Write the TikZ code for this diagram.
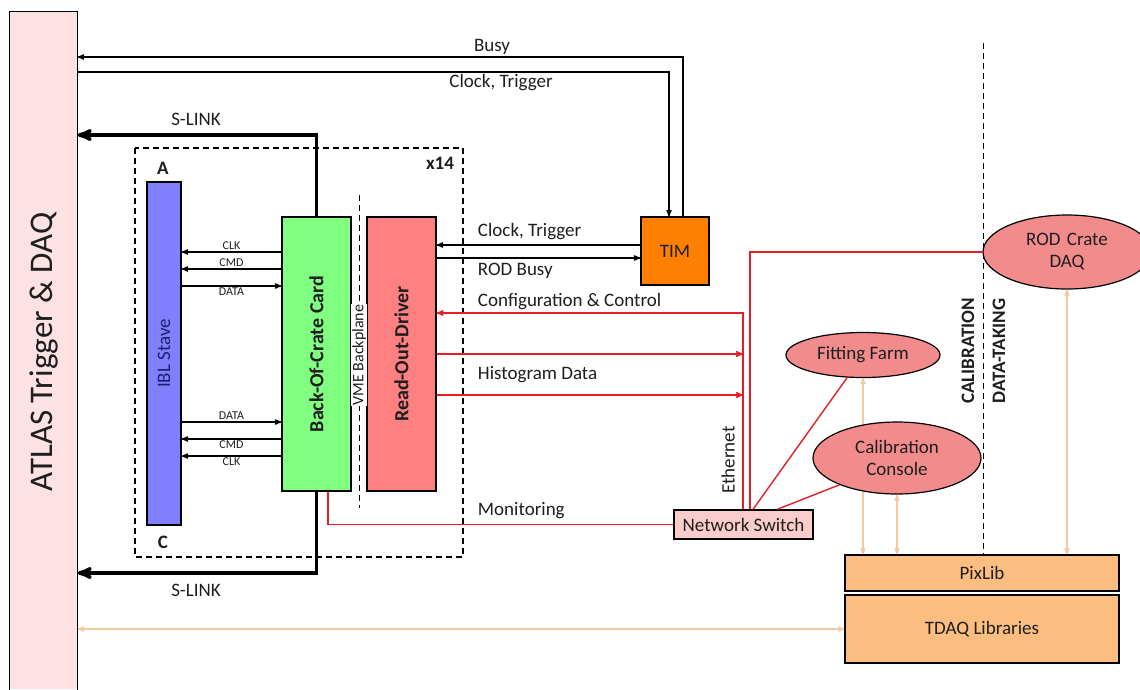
\documentclass[tikz,border=0pt]{standalone}
\usepackage{fontspec}
\setmainfont{Carlito}
\usetikzlibrary{arrows,shapes.geometric}

\definecolor{atlasfill}{RGB}{253,226,228}
\definecolor{iblblue}{RGB}{128,128,255}
\definecolor{bocgreen}{RGB}{128,255,128}
\definecolor{rodred}{RGB}{255,128,128}
\definecolor{timorange}{RGB}{255,128,0}
\definecolor{ellfill}{RGB}{242,140,140}
\definecolor{swfill}{RGB}{250,204,204}
\definecolor{libfill}{RGB}{251,190,128}
\definecolor{tanline}{RGB}{245,200,160}
\definecolor{linered}{RGB}{230,30,40}
\definecolor{ink}{RGB}{30,30,30}
\definecolor{navy}{RGB}{30,30,110}

\begin{document}
\begin{tikzpicture}[x=1pt,y=-1pt,>=stealth',line width=1.3pt,
  block/.style={draw,line width=1.2pt,inner sep=0pt,font=\fontsize{19}{21}\selectfont,text=ink},
  ell/.style={ellipse,draw,line width=1.2pt,fill=ellfill,inner sep=0pt,align=center,font=\fontsize{19}{22}\selectfont,text=ink},
  txt/.style={font=\fontsize{19}{21}\selectfont,text=ink},
  bold/.style={font=\fontsize{19}{21}\selectfont\bfseries,text=ink},
  sig/.style={font=\fontsize{12}{13}\selectfont,text=ink,inner sep=1.5pt},
  redline/.style={draw=linered,line width=1.4pt},
  slink/.style={->,line width=3.5pt},
  libarrow/.style={<->,draw=tanline,line width=1.2pt},
  crate/.style={dashed,dash pattern=on 6pt off 4pt,line width=1.2pt}]

  \useasboundingbox (0,0) rectangle (1140,689);

  % ATLAS side
  \node[fill=atlasfill,minimum width=67pt,minimum height=677pt,inner sep=0pt] (atlas) at (43.5,350.5) {};
  \draw[line width=1.2pt] (atlas.south west) |- (atlas.north east) -- (atlas.south east);
  \node[rotate=90,font=\fontsize{33}{35}\selectfont,text=ink] (atlaslbl) at (44,352) {ATLAS Trigger \& DAQ};

  % one of 14 crates
  \draw[crate] (135,148) rectangle (463,557);
  \node[bold] (sideA) at (163,168) {A};
  \node[bold] (sideC) at (163,542) {C};
  \node[bold] (x14) at (440,163) {x14};

  \node[block,fill=iblblue,minimum width=34pt,minimum height=343pt] (ibl) at (164,353.5) {};
  \node[rotate=90,font=\fontsize{19}{21}\selectfont,text=navy] (ibltxt) at (ibl) {IBL Stave};
  \node[block,fill=bocgreen,minimum width=69pt,minimum height=274pt] (boc) at (316.5,354) {};
  \node[rotate=90,font=\fontsize{20}{22}\selectfont\bfseries,text=ink] (boctxt) at (boc) {Back-Of-Crate Card};
  \node[block,fill=rodred,minimum width=69pt,minimum height=274pt] (rod) at (401.5,354) {};
  \node[rotate=90,font=\fontsize{20}{22}\selectfont\bfseries,text=ink] (rodtxt) at (rod) {Read-Out-Driver};

  \draw[crate,line width=1pt] (359,195) -- (359,508);
  \node[rotate=90,fill=white,inner sep=1pt,font=\fontsize{16}{18}\selectfont,text=ink] (vme) at (359,355) {VME Backplane};

  \node[block,fill=timorange,minimum width=68pt,minimum height=68pt] (tim) at (675,251) {TIM};
  \node[block,fill=swfill,minimum width=139pt,minimum height=29pt] (netsw) at (743.5,524.5) {Network Switch};

  % calibration side
  \node[ell,minimum width=168pt,minimum height=74pt] (rodcrate) at (1067,252) {ROD\,\,Crate\\DAQ};
  \node[ell,minimum width=154pt,minimum height=45pt] (fitfarm) at (863,355) {Fitting Farm};
  \node[block,fill=libfill,minimum width=274pt,minimum height=36pt] (pixlib) at (982,573) {PixLib};
  \node[block,fill=libfill,minimum width=274pt,minimum height=68pt] (tdaq) at (982,629) {TDAQ Libraries};
  \draw[libarrow] (fitfarm.south) -- (pixlib.north -| fitfarm.south);
  \node[ell,minimum width=168pt,minimum height=72pt] (calcon) at (897,458) {Calibration\\Console};
  \draw[libarrow] (calcon.south -| 897,0) -- (pixlib.north -| 897,0);
  \draw[libarrow] (rodcrate.south) -- (pixlib.north -| rodcrate.south);
  \draw[libarrow] (atlas.east |- tdaq.west) -- (tdaq.west);

  \draw[crate,line width=1pt] (983,43) -- (pixlib.north -| 983,0);
  \node[bold,rotate=90] (lcal) at (968,351) {CALIBRATION};
  \node[bold,rotate=90] (ldaq) at (999,351) {DATA-TAKING};

  % trigger and busy
  \coordinate (busyc) at (683,57);
  \coordinate (clkc) at (669,72);
  \draw[->] (tim.north -| busyc) |- (atlas.east |- busyc);
  \draw[->] (atlas.east |- clkc) -| (tim.north -| clkc);
  \node[txt] (lbusy) at (492,47) {Busy};
  \node[txt] (lclk) at (501,83) {Clock, Trigger};

  \draw[->] (tim.west |- 0,245) -- (rod.east |- 0,245);
  \draw[->] (rod.east |- 0,258) -- (tim.west |- 0,258);
  \node[txt,anchor=west] (lclkrod) at (474,232) {Clock, Trigger};
  \node[txt,anchor=west] (lbusyrod) at (474,271) {ROD Busy};

  % S-LINK
  \draw[slink] (boc.north) |- (atlas.east |- 0,135);
  \draw[slink] (boc.south) |- (atlas.east |- 0,573);
  \node[txt] (lslink1) at (196,119) {S-LINK};
  \node[txt] (lslink2) at (196,590) {S-LINK};

  % stave links
  \foreach \yy/\txt/\pos in {252/CLK/above,269/CMD/above,439/CMD/below,456/CLK/below}
    \draw[->] (boc.west |- 0,\yy) -- node[sig,\pos] {\txt} (ibl.east |- 0,\yy);
  \foreach \yy/\pos in {286/below,422/above}
    \draw[->] (ibl.east |- 0,\yy) -- node[sig,\pos] {DATA} (boc.west |- 0,\yy);

  % ethernet
  \coordinate (ethtop) at (743,313);
  \draw[redline,->] (netsw.north -| ethtop) -- (ethtop) -- (rod.east |- ethtop);
  \foreach \yy in {354,395}
    \draw[redline,->] (rod.east |- 0,\yy) -- (ethtop |- 0,\yy);
  \draw[redline] (boc.south -| 328,0) |- (netsw.west);
  \draw[redline] (netsw.north -| 750,0) |- (rodcrate.west);
  \draw[redline] (netsw.north -| 753,0) -- (fitfarm.235);
  \draw[redline] (netsw.north -| 777,0) -- (calcon.205);
  \node[txt,anchor=west] (lconf) at (474,302) {Configuration \& Control};
  \node[txt,anchor=west] (lhisto) at (474,375) {Histogram Data};
  \node[txt,anchor=west] (lmon) at (474,511) {Monitoring};
  \node[txt,rotate=90] (leth) at (728,460) {Ethernet};
\end{tikzpicture}
\end{document}
